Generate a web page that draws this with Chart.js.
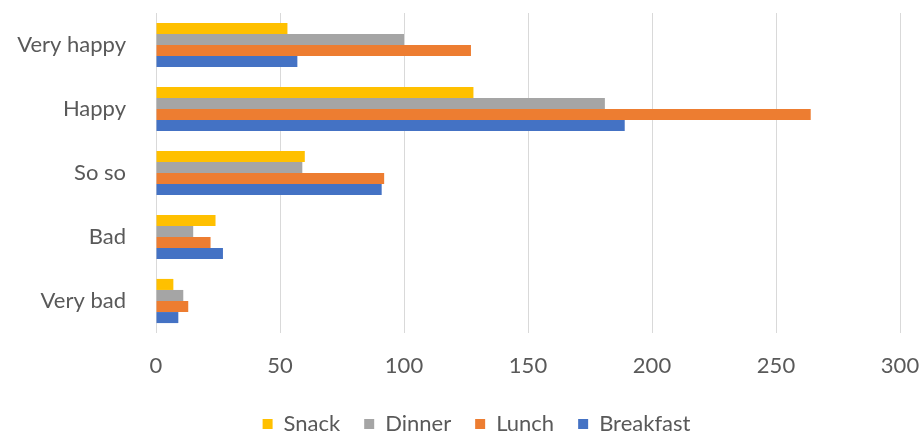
<!DOCTYPE html>
<html>
<head>
<meta charset="utf-8">
<script src="https://cdn.jsdelivr.net/npm/chart.js@4/dist/chart.umd.min.js"></script>
<style>
  html, body { margin: 0; padding: 0; background: #fff; }
  #wrap { width: 922px; height: 435px; }
</style>
</head>
<body>
<div id="wrap"><canvas id="moodChart" width="922" height="435"></canvas></div>
<script>
// categories, top to bottom
const moods = ["Very happy", "Happy", "So so", "Bad", "Very bad"];

// series values
const snack     = [53, 128, 60, 24, 7];
const dinner    = [100, 181, 59, 15, 11];
const lunch     = [127, 264, 92, 22, 13];
const breakfast = [57, 189, 91, 27, 9];

const xTicks = [0, 50, 100, 150, 200, 250, 300];

const fontFamily = "Lato, 'Liberation Sans', Arial, sans-serif";
const textColor = "#595959";

// legend in the original is centred under the plot, not the whole canvas
const shiftLegend = {
    id: "shiftLegend",
    afterLayout(chart) {
        if (chart.legend) chart.legend.left += 53;
    }
};

document.addEventListener("DOMContentLoaded", () => {
    const ctx = document.getElementById("moodChart").getContext("2d");

    new Chart(ctx, {
        type: "bar",
        data: {
            labels: moods,
            datasets: [
                { label: "Snack", data: snack, backgroundColor: "#FFC000" },
                { label: "Dinner", data: dinner, backgroundColor: "#A5A5A5" },
                { label: "Lunch", data: lunch, backgroundColor: "#ED7D31" },
                { label: "Breakfast", data: breakfast, backgroundColor: "#4472C4" }
            ]
        },
        options: {
            indexAxis: "y",
            responsive: false,
            animation: false,
            devicePixelRatio: 1,
            categoryPercentage: 0.69,
            barPercentage: 1,
            layout: { padding: { top: 13, right: 22, left: 0, bottom: -10 } },
            scales: {
                x: {
                    min: 0,
                    max: 300,
                    afterBuildTicks: axis => { axis.ticks = xTicks.map(v => ({ value: v })); },
                    afterFit: axis => {
                        axis.height = 56;
                        axis.paddingLeft = 0;
                        axis.paddingRight = 0;
                    },
                    grid: { color: "#d9d9d9", lineWidth: 1, drawTicks: false },
                    border: { display: false },
                    ticks: {
                        padding: 20,
                        color: textColor,
                        font: { family: fontFamily, size: 22 }
                    }
                },
                y: {
                    afterFit: axis => {
                        axis.width = 156;
                        axis.paddingTop = 0;
                        axis.paddingBottom = 0;
                    },
                    grid: { display: false },
                    border: { display: false },
                    ticks: {
                        padding: 22,
                        color: textColor,
                        font: { family: fontFamily, size: 22 }
                    }
                }
            },
            plugins: {
                legend: {
                    position: "bottom",
                    labels: {
                        boxWidth: 10,
                        boxHeight: 10,
                        padding: 24,
                        color: textColor,
                        font: { family: fontFamily, size: 22 }
                    }
                },
                tooltip: { enabled: false }
            }
        },
        plugins: [shiftLegend]
    });
});
</script>
</body>
</html>
